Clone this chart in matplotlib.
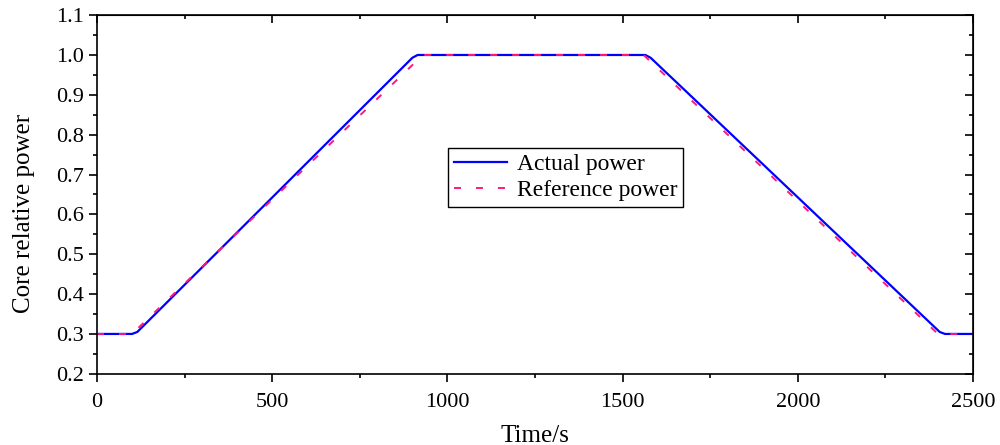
import numpy as np
import matplotlib.pyplot as plt
from matplotlib.ticker import MultipleLocator

plt.rcParams['font.family'] = ['Liberation Serif', 'DejaVu Serif']
plt.rcParams['font.size'] = 16

# data
t_actual = [0, 100, 115, 900, 915, 1565, 1580, 2405, 2420, 2500]
p_actual = [0.3, 0.3, 0.305, 0.993, 1.0, 1.0, 0.993, 0.305, 0.3, 0.3]
t_ref = [0, 100, 930, 1560, 2400, 2500]
p_ref = [0.3, 0.3, 1.0, 1.0, 0.3, 0.3]

fig = plt.figure(figsize=(10, 4.45), dpi=100)
ax = fig.add_axes([0.097, 0.16, 0.876, 0.806])

ax.plot(t_actual, p_actual, color="#0000ff", lw=1.6, label="Actual power")
ax.plot(t_ref, p_ref, color="#ff1a7a", lw=1.4, ls=(0, (3.6, 7.7)), label="Reference power")

ax.set_xlim(0, 2500)
ax.set_ylim(0.2, 1.1)
ax.xaxis.set_major_locator(MultipleLocator(500))
ax.xaxis.set_minor_locator(MultipleLocator(250))
ax.yaxis.set_major_locator(MultipleLocator(0.1))
ax.yaxis.set_minor_locator(MultipleLocator(0.05))
ax.yaxis.set_major_formatter(plt.FormatStrFormatter("%.1f"))
ax.tick_params(which="major", direction="out", length=6, width=1.2)
ax.tick_params(which="minor", direction="out", length=3, width=1.2)
ax.tick_params(axis="x", pad=8)

# mirrored ticks pointing inward on top and right
top = ax.secondary_xaxis("top")
top.xaxis.set_major_locator(MultipleLocator(500))
top.xaxis.set_minor_locator(MultipleLocator(250))
top.tick_params(which="major", direction="in", length=6, width=1.2, labeltop=False)
top.tick_params(which="minor", direction="in", length=3, width=1.2)
right = ax.secondary_yaxis("right")
right.yaxis.set_major_locator(MultipleLocator(0.1))
right.yaxis.set_minor_locator(MultipleLocator(0.05))
right.tick_params(which="major", direction="in", length=6, width=1.2, labelright=False)
right.tick_params(which="minor", direction="in", length=3, width=1.2)

for sp in ax.spines.values():
    sp.set_linewidth(1.2)

ax.set_xlabel("Time/s", fontsize=18, labelpad=9)
ax.set_ylabel("Core relative power", fontsize=18, labelpad=15, y=0.446)

leg = ax.legend(loc="center", bbox_to_anchor=(0.535, 0.547), fancybox=False,
                edgecolor="black", framealpha=1, handlelength=2.25, fontsize=17,
                borderpad=0.25, labelspacing=0.2, handletextpad=0.4)
leg.get_frame().set_linewidth(1.0)

fig.savefig("out.png", dpi=100)
